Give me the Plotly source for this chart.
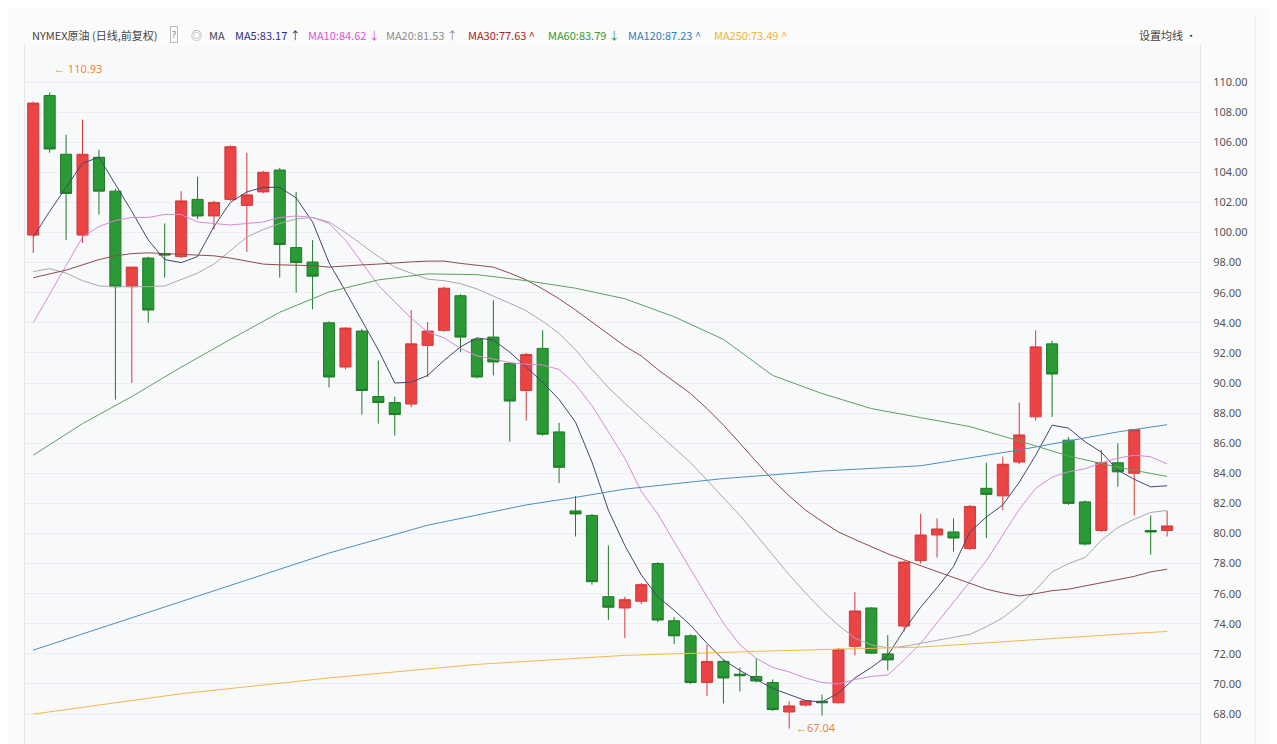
import plotly.graph_objects as go

# NYMEX crude oil, daily candles (index = trading day in window)
opens = [99.83, 109.1, 105.2, 99.83, 105.0, 102.75, 96.4, 98.3, 98.6, 98.4,
         102.2, 101.1, 102.2, 101.8, 102.7, 104.15, 99.0, 98.04, 94.0, 91.06,
         93.45, 89.1, 88.7, 88.6, 92.5, 93.5, 95.8, 92.9, 93.05, 91.3,
         89.5, 92.3, 86.75, 81.5, 81.2, 75.8, 75.05, 75.5, 78.0, 74.2,
         73.2, 70.1, 71.5, 70.65, 70.5, 70.1, 68.14, 68.6, 68.85, 68.75,
         72.5, 75.05, 72.0, 73.85, 78.2, 79.9, 80.1, 79.0, 83.0, 82.5,
         84.75, 87.75, 92.6, 86.2, 82.1, 80.2, 84.7, 84.0, 80.2, 80.2]
highs = [108.7, 109.3, 106.5, 107.5, 105.5, 102.9, 97.7, 98.4, 100.6, 102.75,
         103.7, 102.1, 105.8, 105.3, 104.1, 104.3, 102.7, 99.5, 94.1, 93.7,
         93.6, 91.5, 89.1, 94.85, 94.05, 96.4, 95.9, 93.0, 95.5, 91.4,
         92.0, 93.5, 87.35, 82.5, 81.3, 79.2, 75.8, 76.7, 78.1, 74.45,
         73.3, 72.6, 71.6, 71.1, 71.7, 70.3, 68.85, 68.9, 69.3, 72.4,
         76.1, 75.1, 73.25, 78.2, 81.3, 81.0, 81.0, 81.9, 84.7, 85.1,
         88.7, 93.5, 92.8, 86.4, 82.2, 85.55, 86.0, 86.95, 81.2, 81.5]
lows = [98.64, 105.3, 99.5, 99.3, 101.2, 88.9, 90.0, 94.0, 97.0, 98.3,
        100.9, 100.2, 102.1, 98.7, 102.6, 97.0, 96.0, 94.9, 89.7, 90.9,
        87.9, 87.3, 86.5, 88.4, 90.4, 93.4, 92.05, 90.3, 90.5, 86.1,
        87.5, 86.5, 83.35, 79.8, 76.6, 74.25, 73.05, 75.3, 74.1, 72.65,
        70.0, 69.2, 68.7, 69.5, 70.1, 68.2, 67.04, 68.5, 67.9, 68.7,
        71.9, 72.0, 70.9, 73.5, 78.0, 78.4, 78.8, 78.9, 79.7, 81.55,
        84.6, 87.5, 87.75, 81.9, 79.2, 80.1, 83.1, 81.2, 78.6, 79.8]
closes = [108.6, 105.55, 102.6, 105.2, 102.75, 96.4, 97.7, 94.85, 98.5, 102.1,
          101.1, 102.0, 105.7, 102.5, 104.0, 99.2, 98.0, 97.1, 90.4, 93.65,
          89.5, 88.7, 87.9, 92.6, 93.45, 96.3, 93.05, 90.4, 91.4, 88.8,
          91.9, 86.6, 84.4, 81.3, 76.8, 75.1, 75.6, 76.6, 74.25, 73.2,
          70.1, 71.5, 70.4, 70.55, 70.2, 68.3, 68.54, 68.87, 68.75, 72.3,
          74.85, 72.05, 71.6, 78.1, 79.9, 80.3, 79.7, 81.8, 82.6, 84.6,
          86.55, 92.4, 90.6, 82.0, 79.3, 84.7, 84.1, 86.9, 80.1, 80.5]
days = list(range(len(closes)))

# moving averages
ma5 = [99.7, 101.4, 103.0, 104.6, 105.0, 103.2, 101.4, 99.5, 98.2, 98.0,
       98.4, 100.4, 102.0, 102.7, 103.0, 103.0, 102.3, 100.7, 98.0, 96.1,
       94.1, 92.2, 90.0, 90.05, 90.5, 91.5, 92.4, 93.0, 92.85, 92.05,
       91.05, 90.05, 88.9, 87.4, 84.75, 81.55, 79.2, 77.25, 75.8, 74.9,
       73.9, 72.7, 71.6, 70.9, 70.3, 69.7, 69.3, 68.9, 68.8, 69.4,
       70.4, 71.1, 71.9, 73.6, 75.1, 76.4, 77.8, 80.1, 81.1, 81.9,
       83.4, 85.2, 87.2, 87.0, 86.1, 85.4, 84.2, 83.6, 83.1, 83.17]
ma10 = [94.0, 95.9, 97.8, 99.7, 100.4, 100.8, 101.0, 101.0, 101.2, 101.2,
        100.7, 100.6, 100.5, 100.6, 100.7, 101.0, 101.1, 101.0, 100.6, 99.5,
        98.0, 96.5, 95.4, 94.3, 93.4, 93.0, 92.3, 91.8, 91.6, 91.35,
        91.25, 91.2, 90.9, 89.9, 88.5, 86.75, 85.0, 82.8, 81.3, 79.45,
        77.6, 75.8, 74.05, 72.6, 71.7, 71.1, 70.8, 70.4, 70.1, 70.0,
        70.3, 70.5, 70.6, 71.6, 72.7, 74.05, 75.45, 76.8, 78.2, 79.9,
        81.6, 83.0, 83.75, 84.1, 84.3, 84.7, 85.0, 85.2, 85.1, 84.62]
ma20 = [97.4, 97.6, 97.3, 96.8, 96.45, 96.4, 96.4, 96.4, 96.45, 96.85,
        97.3, 97.9, 98.8, 99.7, 100.2, 100.6, 100.9, 101.0, 100.7, 100.0,
        99.2, 98.4, 97.7, 97.3, 96.9, 96.8, 96.6, 96.25, 95.8, 95.3,
        94.8, 94.1, 93.3, 92.2, 90.9, 89.7, 88.65, 87.65, 86.7, 85.7,
        84.7, 83.55, 82.4, 81.2, 79.9, 78.55, 77.25, 76.05, 74.9, 73.9,
        73.05, 72.6, 72.4, 72.5, 72.7, 72.9, 73.05, 73.3, 73.8, 74.4,
        75.25, 76.25, 77.45, 78.0, 78.4, 79.55, 80.4, 80.95, 81.4, 81.53]
ma30 = [97.0, 97.25, 97.5, 97.85, 98.2, 98.45, 98.6, 98.65, 98.6, 98.5,
        98.5, 98.45, 98.3, 98.1, 97.9, 97.85, 97.85, 97.8, 97.7, 97.8,
        97.85, 97.9, 98.0, 98.05, 98.1, 98.1, 97.95, 97.85, 97.7, 97.3,
        96.85, 96.25, 95.6, 94.85, 94.05, 93.25, 92.45, 91.8, 90.9, 90.1,
        89.3, 88.3, 87.2, 86.0, 84.75, 83.55, 82.5, 81.55, 80.8, 80.1,
        79.6, 79.1, 78.65, 78.25, 77.85, 77.45, 77.05, 76.65, 76.3, 76.05,
        75.85, 76.0, 76.2, 76.3, 76.5, 76.7, 76.95, 77.15, 77.45, 77.63]
ma60_days = [0, 3, 6, 9, 12, 15, 18, 21, 24, 27, 30, 33, 36, 39, 42, 45, 48, 51, 54, 57, 60, 63, 66, 69]
ma60 = [85.2, 87.3, 89.1, 91.05, 92.9, 94.7, 96.05, 96.85, 97.25, 97.2, 96.8, 96.3,
        95.6, 94.4, 92.9, 90.5, 89.3, 88.3, 87.7, 87.1, 86.15, 85.15, 84.4, 83.79]
ma120_days = [0, 6, 12, 18, 24, 30, 33, 36, 42, 48, 54, 60, 66, 69]
ma120 = [72.25, 74.4, 76.5, 78.7, 80.55, 81.9, 82.4, 82.95, 83.65, 84.15, 84.5, 85.55, 86.75, 87.23]
ma250_days = [0, 9, 18, 27, 36, 45, 54, 60, 66, 69]
ma250 = [68.0, 69.35, 70.4, 71.3, 71.9, 72.2, 72.45, 72.9, 73.3, 73.49]
price_ticks = [68, 70, 72, 74, 76, 78, 80, 82, 84, 86, 88, 90, 92, 94, 96, 98, 100, 102, 104, 106, 108, 110]

ma_lines = [
    ("MA5", days, ma5, "#44456e"),
    ("MA10", days, ma10, "#d88ad6"),
    ("MA20", days, ma20, "#a9a9ad"),
    ("MA30", days, ma30, "#8e4b4b"),
    ("MA60", ma60_days, ma60, "#5f9f5f"),
    ("MA120", ma120_days, ma120, "#4b8fc2"),
    ("MA250", ma250_days, ma250, "#f2b94a"),
]

fig = go.Figure()
for name, xs, ys, col in ma_lines:
    fig.add_trace(go.Scatter(x=xs, y=ys, mode="lines", name=name,
                             line=dict(color=col, width=1), hoverinfo="skip"))

fig.add_trace(go.Candlestick(
    x=days, open=opens, high=highs, low=lows, close=closes,
    increasing=dict(line=dict(color="#d63a3a", width=1), fillcolor="#ea4444"),
    decreasing=dict(line=dict(color="#1e7b27", width=1), fillcolor="#2b9935"),
    whiskerwidth=0, name="NYMEX原油"
))

# page adds an 8px body margin, so figure pixel = screen pixel - 8
plot_l, plot_r, plot_t, H = 17, 1192, 37, 744
head_y = (H - 27) / (H - plot_t)


def px_to_paper(px):
    return (px - plot_l) / (plot_r - plot_l)


# header bar: (figure pixel x, text, colour)
header = [
    (22, "NYMEX原油 (日线,前复权)", "#444444"),
    (181, "◎", "#888888"),
    (199, "MA", "#444444"),
    (225, "MA5:83.17 ↑", "#2d2d86"),
    (298, "MA10:84.62 ↓", "#e04fd6"),
    (376, "MA20:81.53 ↑", "#8c8c8c"),
    (458, "MA30:77.63 ^", "#a82222"),
    (538, "MA60:83.79 ↓", "#2f9a2f"),
    (618, "MA120:87.23 ^", "#2d7fc1"),
    (704, "MA250:73.49 ^", "#f2b232"),
    (1129, "设置均线 ·", "#444444"),
]
for px, txt, col in header:
    fig.add_annotation(x=px_to_paper(px), y=head_y, xref="paper", yref="paper",
                       xanchor="left", yanchor="middle", text=txt, showarrow=False,
                       font=dict(size=11, color=col, family="Noto Sans CJK SC"))
# boxed help mark
fig.add_annotation(x=px_to_paper(162), y=head_y, xref="paper", yref="paper",
                   xanchor="left", yanchor="middle", text="?", showarrow=False,
                   bordercolor="#bbbbbb", borderwidth=1, borderpad=1,
                   font=dict(size=9, color="#777777", family="Noto Sans"))

# max / min markers
fig.add_annotation(x=1, y=110.93, text="← 110.93", showarrow=False, xanchor="left",
                   xshift=2, font=dict(size=11, color="#e8893a", family="Noto Sans"))
fig.add_annotation(x=46, y=67.04, text="←67.04", showarrow=False, xanchor="left",
                   yanchor="middle", xshift=5, yshift=1,
                   font=dict(size=11, color="#e8893a", family="Noto Sans"))

# right border of the price-scale panel
fig.add_shape(type="line", xref="paper", yref="paper",
              x0=px_to_paper(1247), x1=px_to_paper(1247), y0=0, y1=1.04,
              line=dict(color="#e6e8eb", width=1))

fig.update_layout(
    width=1277, height=H,
    margin=dict(l=plot_l, r=1277 - plot_r, t=plot_t, b=0),
    paper_bgcolor="#fbfbfc", plot_bgcolor="#f8f9fb",
    showlegend=False,
    boxgap=0.1, boxgroupgap=0.25,
    font=dict(family="Noto Sans", color="#555555"),
)
fig.update_xaxes(range=[-0.5, 71.0], showticklabels=False, showgrid=False,
                 zeroline=False, rangeslider=dict(visible=False), showline=False)
fig.update_yaxes(side="right", range=[65.48, 112.46], tickmode="array",
                 tickvals=price_ticks, tickformat=".2f", showgrid=True, gridcolor="#eceef2",
                 zeroline=False, ticks="", ticklabelstandoff=10,
                 showline=True, mirror=True, linecolor="#e3e5e8",
                 tickfont=dict(size=11, color="#555555", family="Noto Sans"))

fig.write_html("out.html")
